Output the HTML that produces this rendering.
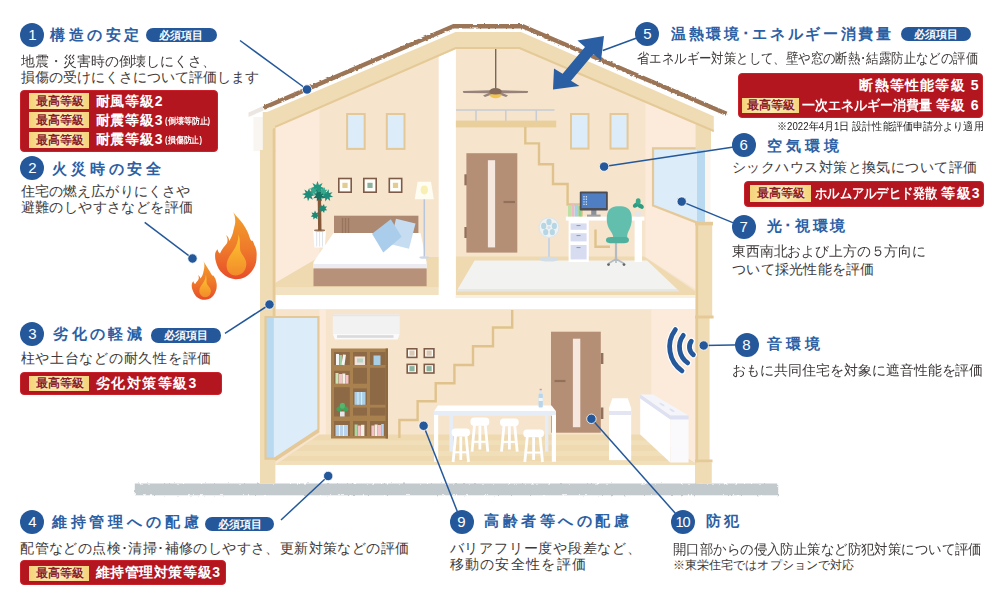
<!DOCTYPE html>
<html lang="ja">
<head>
<meta charset="utf-8">
<title>住宅性能評価 10項目</title>
<style>
html,body{margin:0;padding:0;background:#fff;}
body{width:988px;height:598px;position:relative;overflow:hidden;font-family:"Liberation Sans",sans-serif;}
#c{position:absolute;left:0;top:0;width:988px;height:598px;overflow:hidden;}
#c div,#c span{white-space:nowrap;}
.j{text-align:justify;text-align-last:justify;}
.n{position:absolute;width:24px;height:24px;border-radius:50%;background:#24589b;color:#fff;font-size:15px;line-height:24px;text-align:center;}
.n.x{letter-spacing:-1.1px;text-indent:-1px;font-size:14.5px;}
.t{position:absolute;color:#2b60a4;font-weight:bold;font-size:15px;line-height:18px;height:18px;}
.b{position:absolute;color:#3e3a39;font-size:13.5px;line-height:16px;height:16px;}
.q{position:absolute;background:#24589b;color:#fff;font-weight:bold;font-size:10.5px;line-height:14.4px;height:14.4px;border-radius:7.2px;box-sizing:border-box;padding:0 13.4px;}
.r{position:absolute;background:#b4161f;border:1px solid #c9222b;border-radius:4px;box-sizing:border-box;}
.g{position:absolute;background:linear-gradient(90deg,#f6d47c 0%,#fbe9ad 50%,#f6d47c 100%);color:#8c1d22;font-weight:bold;font-size:11.5px;box-sizing:border-box;padding:0 6.4px;text-shadow:0 0 2px #fff6d8,0 0 1px #fff6d8;}
.w{position:absolute;color:#fff;font-weight:bold;font-size:14px;line-height:16px;height:16px;}
</style>
</head>
<body>
<div id="c">
<svg width="988" height="598" viewBox="0 0 988 598" style="position:absolute;left:0;top:0">
<defs><filter id="rough" x="-2%" y="-20%" width="104%" height="140%"><feTurbulence type="fractalNoise" baseFrequency="0.3" numOctaves="2" seed="3" result="n"/><feDisplacementMap in="SourceGraphic" in2="n" scale="2.6" xChannelSelector="R" yChannelSelector="G"/></filter></defs>
<rect x="134.8" y="483.5" width="643.4" height="11.8" fill="#c3cace" filter="url(#rough)"/>
<polygon points="248.5,112.5 263.5,105.8 263.5,110.5 248.5,117.0" fill="#ebe6e2"/>
<rect x="253.5" y="117" width="9.5" height="34" fill="#f9f6f2"/>
<polygon points="270.0,131.0 455.7,47.0 519.4,47.0 705.0,128.0 705.0,295.0 270.0,295.0" fill="#f6e4cd"/>
<polygon points="274.0,129.0 319.4,108.0 319.4,258.0 276.0,283.0 274.0,283.0" fill="#fcebdb"/>
<polygon points="645.4,101.0 700.0,125.0 700.0,292.0 645.4,257.0" fill="#fcebdb"/>
<polygon points="319.4,257.0 439.0,257.0 439.0,287.5 275.0,287.5 275.0,283.0" fill="#eed9b0"/>
<rect x="275" y="287.5" width="164" height="7.5" fill="#f2e2c1"/>
<polygon points="455.5,256.5 644.0,256.5 695.0,291.0 695.0,295.0 455.5,295.0" fill="#eed9b0"/>
<rect x="455.5" y="295" width="240" height="3" fill="#faf0e0"/>
<rect x="438.7" y="40" width="17.2" height="256" fill="#fff"/>
<rect x="275" y="309.2" width="421" height="155.8" fill="#f6e4cd"/>
<rect x="319.4" y="309.2" width="6.4" height="126" fill="#fcebdb"/>
<polygon points="651.3,309.2 696.0,309.2 696.0,464.0 651.3,434.5" fill="#fcebdb"/>
<polygon points="319.5,434.5 651.3,434.5 696.0,463.8 696.0,464.6 276.0,464.6" fill="#eed9b0"/>
<clipPath id="lf"><polygon points="319.5,434.5 651.3,434.5 696.0,463.8 696.0,464.6 276.0,464.6"/></clipPath>
<g clip-path="url(#lf)" fill="#f1dfba"><rect x="270" y="440.5" width="430" height="4.5"/><rect x="270" y="451" width="430" height="5"/><rect x="270" y="461" width="430" height="4"/></g>
<rect x="347.1" y="114.0" width="17.6" height="34.9" fill="#dcecf8" stroke="#e4c897" stroke-width="2"/>
<rect x="386.8" y="114.0" width="17.7" height="34.9" fill="#dcecf8" stroke="#e4c897" stroke-width="2"/>
<rect x="338.8" y="178.5" width="12.4" height="13.7" fill="#fffdf8" stroke="#7d5b46" stroke-width="1.6"/><rect x="342.4" y="182.8" width="5.2" height="5.2" fill="#e2cc8f"/>
<rect x="363.8" y="178.5" width="12.4" height="13.7" fill="#fffdf8" stroke="#7d5b46" stroke-width="1.6"/><rect x="367.4" y="182.8" width="5.2" height="5.2" fill="#8db39f"/>
<rect x="389.3" y="178.5" width="12.4" height="13.7" fill="#fffdf8" stroke="#7d5b46" stroke-width="1.6"/><rect x="392.9" y="182.8" width="5.2" height="5.2" fill="#e2cc8f"/>
<polygon points="313.2,230.2 326.0,230.2 324.8,247.6 314.4,247.6" fill="#fff"/>
<path d="M316.7 232V246.5M319.6 232V246.5M322.5 232V246.5" stroke="#dfe3ea" stroke-width="1"/>
<ellipse cx="319.6" cy="230.4" rx="5.6" ry="1.1" fill="#9a7a5e"/>
<path d="M319.8 230.5 L319.4 199" stroke="#85583a" stroke-width="3.4" fill="none"/>
<polygon points="319.7,216.0 317.3,216.7 317.4,219.2 315.3,217.7 313.4,219.4 313.3,216.9 310.8,216.4 312.7,214.8 311.5,212.5 314.0,213.0 315.0,210.6 316.2,212.9 318.6,212.2 317.6,214.5" fill="#1d8a76"/>
<polygon points="327.2,210.3 324.6,210.4 324.1,212.9 322.5,210.9 320.2,212.0 320.7,209.5 318.4,208.5 320.7,207.3 320.1,204.8 322.4,205.9 324.0,203.9 324.6,206.4 327.1,206.4 325.5,208.4" fill="#1d8a76"/>
<polygon points="315.2,195.2 311.5,196.1 312.8,199.7 309.6,197.7 308.0,201.2 307.1,197.5 303.5,198.8 305.5,195.6 302.0,194.0 305.7,193.1 304.4,189.5 307.6,191.5 309.2,188.0 310.1,191.7 313.7,190.4 311.7,193.6" fill="#1e8c78"/>
<polygon points="333.2,197.1 329.5,197.3 330.2,200.9 327.4,198.6 325.3,201.6 325.1,197.9 321.5,198.6 323.8,195.8 320.8,193.7 324.5,193.5 323.8,189.9 326.6,192.2 328.7,189.2 328.9,192.9 332.5,192.2 330.2,195.0" fill="#1e8c78"/>
<polygon points="324.7,188.2 320.8,189.6 322.6,193.3 318.9,191.5 317.5,195.4 316.1,191.5 312.4,193.3 314.2,189.6 310.3,188.2 314.2,186.8 312.4,183.1 316.1,184.9 317.5,181.0 318.9,184.9 322.6,183.1 320.8,186.8" fill="#23967f"/>
<polygon points="325.0,197.7 321.4,197.7 321.7,201.3 319.1,198.7 316.8,201.5 316.8,197.9 313.2,198.2 315.8,195.6 313.0,193.3 316.6,193.3 316.3,189.7 318.9,192.3 321.2,189.5 321.2,193.1 324.8,192.8 322.2,195.4" fill="#15705f"/>
<polygon points="318.0,192.0 315.3,192.4 315.6,195.1 313.5,193.3 311.6,195.2 311.7,192.5 309.0,192.1 311.3,190.5 309.9,188.2 312.5,188.9 313.4,186.4 314.5,188.9 317.1,188.1 315.7,190.5" fill="#34a78c"/>
<polygon points="327.2,193.6 324.6,193.2 324.1,195.8 322.8,193.5 320.4,194.6 321.4,192.2 319.0,191.1 321.5,190.3 320.9,187.8 323.1,189.2 324.7,187.2 324.9,189.8 327.5,189.8 325.6,191.6" fill="#34a78c"/>
<rect x="334" y="215.7" width="84.4" height="19" fill="#ad8971"/>
<path d="M342.5 218V233M345.5 218V233M348.5 218V233" stroke="#98745e" stroke-width="1.4"/>
<polygon points="333.5,233.0 420.5,233.0 426.6,262.0 426.6,268.6 313.5,268.6 313.5,262.0" fill="#fff"/>
<rect x="313.5" y="264" width="113.1" height="4.6" fill="#ecebf2"/>
<rect x="313.5" y="268.4" width="113.1" height="17.8" fill="#b8917a"/>
<polygon points="396.0,218.7 415.5,223.4 409.0,248.8 390.0,244.0" fill="#c6dcf1"/>
<polygon points="390.8,219.2 401.6,236.7 383.3,252.6 372.0,233.7" fill="#a9cdeb"/>
<path d="M424.3 199V257" stroke="#b8c6dc" stroke-width="1.5"/>
<ellipse cx="424.3" cy="257.5" rx="5" ry="1.3" fill="#cfd8e6"/>
<polygon points="417.6,181.7 431.0,181.7 433.8,199.3 414.8,199.3" fill="#fffdf2"/>
<ellipse cx="424.3" cy="190" rx="3.6" ry="4.4" fill="#f8efb4"/>
<rect x="571.0" y="114.0" width="17.5" height="34.6" fill="#dcecf8" stroke="#e4c897" stroke-width="2"/>
<rect x="610.5" y="114.0" width="17.1" height="34.6" fill="#dcecf8" stroke="#e4c897" stroke-width="2"/>
<path d="M495.7 48V88" stroke="#7d6658" stroke-width="1.4"/>
<polygon points="462.8,91.0 490.0,90.2 490.0,93.2 463.5,93.0" fill="#97837a"/>
<polygon points="528.2,91.0 501.0,90.2 501.0,93.2 527.5,93.0" fill="#97837a"/>
<polygon points="483.0,95.5 491.0,92.0 493.0,94.0 485.0,97.0" fill="#97837a"/>
<polygon points="508.0,95.5 500.0,92.0 498.0,94.0 506.0,97.0" fill="#97837a"/>
<ellipse cx="495.5" cy="91.5" rx="6.2" ry="3.6" fill="#84695a"/>
<path d="M489.5 94.5 A6.2 4.6 0 0 0 501.7 94.5 Z" fill="#f3c54d"/>
<path d="M456 110H554.5M476 110V121M505.8 110V121M536.3 110V121" stroke="#c8ccd4" stroke-width="1.5" fill="none"/>
<rect x="455.9" y="120.6" width="100.3" height="6.8" fill="#e8cf9c"/>
<rect x="466.4" y="153.2" width="50.9" height="99.4" fill="#b48f76"/>
<rect x="487.9" y="160.2" width="7.2" height="87.2" fill="#f6e8df"/>
<rect x="464.4" y="174.3" width="2.4" height="11" fill="#93705b"/><rect x="464.4" y="227" width="2.4" height="11" fill="#93705b"/>
<path d="M503.5 202H515" stroke="#93705b" stroke-width="2.2"/>
<polyline points="525.3,127.0 525.3,143.4 539.0,143.4 539.0,164.2 553.0,164.2 553.0,184.0 567.6,184.0 567.6,204.5 581.6,204.5 581.6,217.0" fill="none" stroke="#e0c38c" stroke-width="2.4"/>
<polyline points="595.5,229.5 595.5,246.8 610.0,246.8" fill="none" stroke="#e0c38c" stroke-width="2.4"/>
<polygon points="474.6,260.5 647.0,260.5 677.5,289.4 457.5,289.4" fill="#f2f2f0"/>
<polygon points="457.5,289.4 677.5,289.4 679.5,291.6 456.5,291.6" fill="#e6e6e3"/>
<path d="M549 238V258" stroke="#c9d6e2" stroke-width="2"/>
<ellipse cx="549" cy="259.2" rx="9.5" ry="2.4" fill="#d3dde8"/>
<circle cx="549" cy="227.6" r="10" fill="#f1f3f3" stroke="#dfe6ea" stroke-width="1.2"/>
<ellipse cx="549.0" cy="222.0" rx="2.6" ry="3.2" fill="#b7d6e4"/>
<ellipse cx="554.3" cy="225.9" rx="2.6" ry="3.2" fill="#b7d6e4"/>
<ellipse cx="552.3" cy="232.1" rx="2.6" ry="3.2" fill="#b7d6e4"/>
<ellipse cx="545.7" cy="232.1" rx="2.6" ry="3.2" fill="#b7d6e4"/>
<ellipse cx="543.7" cy="225.9" rx="2.6" ry="3.2" fill="#b7d6e4"/>
<circle cx="549" cy="227.6" r="1.6" fill="#d4e0ea"/>
<rect x="565.8" y="216.6" width="78.6" height="4" fill="#fff"/>
<rect x="568.6" y="220" width="20.2" height="42" fill="#fff"/>
<rect x="634.6" y="220" width="7.4" height="42" fill="#fff"/>
<rect x="570.6" y="223.4" width="16" height="6.4" fill="#d8dcf0"/><rect x="570.6" y="233.2" width="16" height="8.2" fill="#d8dcf0"/><rect x="570.6" y="245" width="16" height="14.4" fill="#d8dcf0"/>
<path d="M576.5 225.6h4M576.5 235.6h4M576.5 247.6h4" stroke="#8f93a8" stroke-width="1"/>
<rect x="568" y="205.5" width="3" height="11" fill="#bfe0a4"/><rect x="571.3" y="203.5" width="3" height="13" fill="#f0b8c4"/><rect x="574.6" y="204.5" width="3.4" height="12" fill="#a8cfe8"/><rect x="578.3" y="206" width="3.2" height="10.5" fill="#8fcf8a"/>
<rect x="591.2" y="209" width="5.2" height="6.4" fill="#8a8f98"/><rect x="587" y="214.6" width="13.6" height="2" fill="#9a9fa8"/>
<rect x="579.8" y="191.6" width="28" height="18.8" rx="1" fill="#4a4d55"/>
<rect x="581.6" y="193.4" width="24.4" height="14.6" fill="#4f7fc2"/>
<path d="M584 196v9M586.4 196v9" stroke="#cfe0f4" stroke-width="1.2" stroke-dasharray="1.4 1.2"/>
<rect x="635.6" y="211" width="5" height="5.6" fill="#e4e6ec"/>
<ellipse cx="636" cy="205" rx="3.4" ry="2.2" fill="#2f9b80" transform="rotate(-35 636 205)"/><ellipse cx="640.6" cy="206.2" rx="3.4" ry="2.2" fill="#2f9b80" transform="rotate(30 640.6 206.2)"/><ellipse cx="638.2" cy="201.5" rx="2.4" ry="3.2" fill="#39a98c"/>
<path d="M616 241V259" stroke="#b4bac2" stroke-width="2.2"/>
<path d="M616 259L608.5 263.5M616 259L624 263.5M616 259V263" stroke="#b4bac2" stroke-width="1.6" fill="none"/>
<circle cx="608.5" cy="264.6" r="1.4" fill="#666"/><circle cx="624" cy="264.6" r="1.4" fill="#666"/>
<path d="M613.2 238.5 C613.6 235 611.5 232.5 609.3 229 C606.6 224.5 606.2 218 607.4 213.5 C608.8 208 613.5 206.2 619.2 206.2 C625 206.2 629.8 208 631.2 213.5 C632.4 218 632 224.5 629.6 229 C627.8 232.5 626.6 235 627.4 238.5 Z" fill="#62bfad"/>
<path d="M606 240 C606 237.6 608.5 237 612 237 H625 C627.6 237 629 238 629 240 C629 242.4 627 243.2 624 243.2 H611 C608 243.2 606 242.6 606 240 Z" fill="#4fb09e"/>
<rect x="332.8" y="314.6" width="67" height="19.4" rx="1.5" fill="#f2f2f2"/>
<rect x="332.8" y="314.6" width="67" height="1.6" fill="#e6e6e6"/>
<path d="M332.8 334 H399.8 L397.6 339.6 H335 Z" fill="#fafafa"/>
<rect x="337" y="335.2" width="56.5" height="2.6" fill="#dadadd"/>
<rect x="331" y="348.5" width="57" height="90" fill="#a9814f"/>
<rect x="385.6" y="348.5" width="2.4" height="90" fill="#8f6a40"/>
<rect x="334.0" y="352.0" width="15.8" height="13.0" fill="#8e6945"/>
<rect x="334.0" y="370.8" width="15.8" height="12.9" fill="#8e6945"/>
<rect x="334.0" y="387.2" width="15.8" height="29.3" fill="#8e6945"/>
<rect x="334.0" y="421.0" width="15.8" height="15.0" fill="#8e6945"/>
<rect x="353.0" y="352.0" width="14.0" height="13.0" fill="#8e6945"/>
<rect x="353.0" y="367.8" width="14.0" height="15.9" fill="#8e6945"/>
<rect x="353.0" y="388.4" width="14.0" height="16.4" fill="#8e6945"/>
<rect x="353.0" y="407.6" width="14.0" height="8.0" fill="#8e6945"/>
<rect x="353.0" y="421.0" width="14.0" height="15.0" fill="#8e6945"/>
<rect x="370.0" y="352.0" width="15.5" height="13.0" fill="#8e6945"/>
<rect x="370.0" y="367.8" width="15.5" height="37.0" fill="#8e6945"/>
<rect x="370.0" y="407.6" width="15.5" height="8.0" fill="#8e6945"/>
<rect x="370.0" y="421.0" width="15.5" height="15.0" fill="#8e6945"/>
<rect x="336" y="354" width="3" height="11" fill="#f5f5f5"/><rect x="339.3" y="355" width="2.6" height="10" fill="#9fd0a0"/><rect x="342.2" y="354.5" width="3" height="10.5" fill="#f5f5f5" transform="rotate(8 343 360)"/>
<rect x="354.6" y="356.5" width="10.5" height="8.5" fill="#f3e1d9"/><rect x="357" y="358.5" width="6" height="4" fill="#b6d6c4"/>
<rect x="373.5" y="355.5" width="7" height="9.5" fill="#a9cfe6"/>
<rect x="335.5" y="373" width="3" height="10.7" fill="#c9e6b4"/><rect x="338.8" y="374" width="3.2" height="9.7" fill="#f3c3c9"/><rect x="342.3" y="373.5" width="3" height="10.2" fill="#f5f0e6"/><rect x="345.5" y="375" width="3" height="8.7" fill="#f3c3c9"/>
<rect x="354.5" y="392" width="11" height="12.8" fill="#a9cfe6"/><path d="M358 392v12.8M361.6 392v12.8" stroke="#e6f0f8" stroke-width="0.9"/>
<rect x="340" y="411.5" width="4.6" height="5" fill="#e4e6ec"/><ellipse cx="339.8" cy="408.6" rx="3.6" ry="2.4" fill="#3ea45c" transform="rotate(-25 339.8 408.6)"/><ellipse cx="345" cy="408.6" rx="3.6" ry="2.4" fill="#3ea45c" transform="rotate(25 345 408.6)"/><ellipse cx="342.4" cy="405.8" rx="2.6" ry="3" fill="#55b56c"/>
<rect x="335.5" y="425" width="12.5" height="11" fill="#b9d3ea"/><path d="M339.5 425v11M343.5 425v11" stroke="#eef4fa" stroke-width="0.9"/>
<rect x="354.6" y="424.5" width="3" height="11.5" fill="#a6d8a0"/><rect x="357.8" y="425.5" width="3" height="10.5" fill="#f3c3c9"/><rect x="361" y="424.8" width="3.4" height="11.2" fill="#f5f0e6"/>
<rect x="371.4" y="425.5" width="3" height="10.5" fill="#f3c3c9"/><rect x="374.6" y="424.5" width="3" height="11.5" fill="#f5f0e6"/><rect x="377.8" y="425" width="3.2" height="11" fill="#f3c3c9"/><rect x="381.2" y="424" width="2.6" height="12" fill="#b9d3ea"/>
<rect x="407.2" y="348.8" width="9.6" height="8.6" fill="#fffdf8" stroke="#7d5b46" stroke-width="1.6"/><rect x="409.4" y="350.5" width="5.2" height="5.2" fill="#d9c9b4"/>
<rect x="407.2" y="364.4" width="9.6" height="8.6" fill="#fffdf8" stroke="#7d5b46" stroke-width="1.6"/><rect x="409.4" y="366.1" width="5.2" height="5.2" fill="#8db39f"/>
<rect x="424.3" y="348.8" width="9.6" height="8.6" fill="#fffdf8" stroke="#7d5b46" stroke-width="1.6"/><rect x="426.5" y="350.5" width="5.2" height="5.2" fill="#d9c9b4"/>
<rect x="424.3" y="364.4" width="9.6" height="8.6" fill="#fffdf8" stroke="#7d5b46" stroke-width="1.6"/><rect x="426.5" y="366.1" width="5.2" height="5.2" fill="#8db39f"/>
<polyline points="512.2,310.0 512.2,327.5 493.0,327.5 493.0,346.2 473.0,346.2 473.0,365.0 454.4,365.0 454.4,383.2 435.7,383.2 435.7,401.2 417.6,401.2 417.6,420.0 399.4,420.0 399.4,438.0" fill="none" stroke="#e0c38c" stroke-width="2.4"/>
<rect x="551" y="331.7" width="49.8" height="101" fill="#b48f76"/>
<rect x="572.9" y="338.7" width="7.4" height="88.5" fill="#f6e8df"/>
<rect x="600.8" y="353" width="2.6" height="11" fill="#93705b"/><rect x="600.8" y="407.5" width="2.6" height="11.5" fill="#93705b"/>
<path d="M554.5 381H565.5" stroke="#93705b" stroke-width="2.2"/>
<rect x="449.4" y="415" width="3.6" height="36.6" fill="#e6edf6"/><rect x="545" y="415" width="3.4" height="36.6" fill="#e6edf6"/>
<path d="M474.5 424.8 L472.0 451.6 M485.3 424.8 L487.8 451.6 M479.9 425.8 V449.6" stroke="#fff" stroke-width="2.8" fill="none"/><path d="M473.0 441.8 H486.8" stroke="#fff" stroke-width="2"/><rect x="470.5" y="417.6" width="18.8" height="8.2" rx="3.6" fill="#fff"/>
<path d="M504.0 425.2 L501.5 451.6 M514.7 425.2 L517.2 451.6 M509.4 426.2 V449.6" stroke="#fff" stroke-width="2.8" fill="none"/><path d="M502.5 441.9 H516.2" stroke="#fff" stroke-width="2"/><rect x="500.0" y="418.4" width="18.7" height="7.8" rx="3.6" fill="#fff"/>
<polygon points="438.0,405.4 551.5,405.4 556.0,411.2 434.0,411.2" fill="#fff"/>
<rect x="434" y="411" width="122" height="4.8" fill="#e6edf6"/>
<rect x="434" y="415" width="4.2" height="46.8" fill="#fff"/><rect x="551.8" y="415" width="4.2" height="46.8" fill="#fff"/>
<path d="M455.6 435.4 L453.1 462.0 M466.0 435.4 L468.5 462.0 M460.8 436.4 V460.0" stroke="#fff" stroke-width="2.8" fill="none"/><path d="M454.1 452.3 H467.5" stroke="#fff" stroke-width="2"/><rect x="451.6" y="428.6" width="18.4" height="7.8" rx="3.6" fill="#fff"/>
<path d="M527.3 436.3 L524.8 462.0 M540.0 436.3 L542.5 462.0 M533.6 437.3 V460.0" stroke="#fff" stroke-width="2.8" fill="none"/><path d="M525.8 452.6 H541.5" stroke="#fff" stroke-width="2"/><rect x="523.3" y="429.5" width="20.7" height="7.8" rx="3.6" fill="#fff"/>
<rect x="538.6" y="393.5" width="4.2" height="14" rx="1.2" fill="#b7d6ee"/><rect x="539.6" y="389.8" width="2.2" height="4" fill="#d4e6f4"/><rect x="539.6" y="388.8" width="2.2" height="1.4" fill="#e38a9a"/><rect x="538.6" y="398" width="4.2" height="3" fill="#eef5fb"/>
<path d="M612.4 398.2 H627.8 L631.2 408 V460.3 H609 V408 Z" fill="#fff"/>
<rect x="609" y="411" width="22.2" height="4" fill="#e3e6f2"/>
<polygon points="640.2,398.0 670.3,419.0 670.3,462.5 640.2,434.5" fill="#fff"/>
<polygon points="670.3,419.0 688.6,419.0 688.6,462.5 670.3,462.5" fill="#fafafc"/>
<polygon points="640.2,394.6 653.0,394.6 688.6,415.6 670.3,415.6" fill="#f4f5fa"/>
<polygon points="640.2,394.6 670.3,415.6 688.6,415.6 688.6,419.4 670.3,419.4 640.2,398.4" fill="#dde1f1"/>
<ellipse cx="662" cy="404.5" rx="3" ry="1" fill="#dde1f1" transform="rotate(30 662 404.5)"/><ellipse cx="672" cy="410.3" rx="3" ry="1" fill="#dde1f1" transform="rotate(30 672 410.3)"/>
<polygon points="652.0,147.5 705.0,147.5 705.0,222.5 697.0,222.5 652.0,206.0" fill="#dcecf8"/>
<rect x="697" y="149" width="8.2" height="73.5" fill="#b9d9f0"/>
<polyline points="697.0,148.4 653.0,148.4 653.0,205.6 697.0,222.6" fill="none" stroke="#e4c897" stroke-width="2.2"/>
<rect x="705" y="147.5" width="5.5" height="75" fill="#fbf7f0"/>
<rect x="262.8" y="112" width="12.6" height="40" fill="#efdcb5"/>
<rect x="260" y="150" width="15.4" height="333.5" fill="#efdcb5"/>
<rect x="272.6" y="128" width="2.8" height="188" fill="#e5ca98"/>
<rect x="695.6" y="120" width="15.4" height="30" fill="#efdcb5"/>
<rect x="695.6" y="223" width="16.6" height="95" fill="#efdcb5"/>
<rect x="695" y="221.8" width="18" height="3.6" fill="#e5ca98"/>
<rect x="695.6" y="223" width="2.6" height="260" fill="#e5ca98"/>
<rect x="695.6" y="316" width="14" height="167.5" fill="#efdcb5"/>
<rect x="695.6" y="316" width="2.6" height="167.5" fill="#e5ca98"/>
<rect x="695" y="315.5" width="18.6" height="3" fill="#e5ca98"/>
<rect x="695" y="459.5" width="17.5" height="3" fill="#e5ca98"/>
<rect x="695.6" y="462.5" width="16.2" height="21" fill="#efdcb5"/>
<polygon points="263.0,113.8 455.5,32.0 521.1,32.0 713.8,116.3 713.8,132.0 519.4,49.0 455.9,49.0 263.0,133.0" fill="#efdcb5"/>
<polyline points="713.8,131.0 519.6,48.0 455.7,48.0 275.0,126.9" fill="none" stroke="#e5ca98" stroke-width="2.2"/>
<polyline points="263.8,107.7 453.6,26.2 522.5,26.2 726.5,113.8" fill="none" stroke="#9b7557" stroke-width="4.4" stroke-linejoin="miter" filter="url(#rough)"/>
<polygon points="265.5,317.0 318.4,317.0 318.4,429.6 274.5,458.6 265.5,458.6" fill="#dcecf8"/>
<rect x="265.5" y="317" width="8.3" height="141.6" fill="#b9d9f0"/>
<polygon points="265.5,317.0 318.4,317.0 318.4,429.6 274.5,458.6 265.5,458.6" fill="none" stroke="#e4c897" stroke-width="2.2"/>
<path d="M318.8 430.6 L274.8 459.6" stroke="#e4c897" stroke-width="3.2" fill="none"/>
<path d="M682.0 370.9 A29.3 29.3 0 0 1 675.4 329.6" fill="none" stroke="#fff" stroke-width="7" stroke-linecap="round"/>
<path d="M682.0 370.9 A29.3 29.3 0 0 1 675.4 329.6" fill="none" stroke="#24589b" stroke-width="4.8" stroke-linecap="round"/>
<path d="M687.7 362.9 A19.5 19.5 0 0 1 683.3 335.4" fill="none" stroke="#fff" stroke-width="7" stroke-linecap="round"/>
<path d="M687.7 362.9 A19.5 19.5 0 0 1 683.3 335.4" fill="none" stroke="#24589b" stroke-width="4.8" stroke-linecap="round"/>
<path d="M693.4 354.8 A9.6 9.6 0 0 1 691.3 341.3" fill="none" stroke="#fff" stroke-width="7" stroke-linecap="round"/>
<path d="M693.4 354.8 A9.6 9.6 0 0 1 691.3 341.3" fill="none" stroke="#24589b" stroke-width="4.8" stroke-linecap="round"/>
<defs><linearGradient id="fo" x1="0" y1="0" x2="0" y2="1"><stop offset="0" stop-color="#f4a02c"/><stop offset="0.55" stop-color="#ee7a2a"/><stop offset="1" stop-color="#e74c2a"/></linearGradient><linearGradient id="fi" x1="0" y1="0" x2="0" y2="1"><stop offset="0" stop-color="#fdc830"/><stop offset="1" stop-color="#f28b2a"/></linearGradient></defs>
<path d="M233.2 212 C236.5 217 240.5 220 242.7 223.4 C246.5 229 248.5 233 249.4 236.8 C250.5 240 251.5 242 252.6 240.4 C253.8 243 254.2 244 254.5 245.2 C256.2 248.5 257 252 256.6 256 C256.6 261 255.8 265 253.6 268.6 C251.5 272.5 248.5 275.5 245.3 277 C242 278.6 238.5 279.4 235.2 279.2 C230.5 279 226 276.8 222.7 273.6 C219.5 270.5 217 266.5 216 261.9 C215.2 259.5 215 257.5 215.1 255.2 C215 252.8 216 250.8 217.6 249.2 C217.8 251 218.6 252.6 220 253.4 C221.5 249.5 224.5 246.5 226.8 243.5 C228.2 241 227.5 237.5 226 235.1 C228 236.5 229 238.6 229.2 241 C231.5 237.5 233 234 233.5 230.1 C234.6 225.5 235.4 223 235.2 221.7 C235.4 218 234.6 215 233.2 212 Z" fill="url(#fo)"/>
<path d="M238.6 234.3 C240.5 240 239.5 245 240.2 250.2 C241.5 255 246.6 258 246.3 264.5 C246 271 241.5 275.4 235.6 275.4 C230 275.4 226.4 271 226.6 265 C226.8 259.5 230 255.5 233 251 C236.5 246 238.4 241 238.6 234.3 Z" fill="url(#fi)"/>
<path d="M202.6 259.9 C204.5 263 207.5 267.5 210.1 271.9 C211.5 274.5 212.6 276.4 213.4 275.6 C215 278 215.8 279.5 216 281 C217 284 217 287.5 216 290.4 C214.5 295.5 210.5 299.5 205.1 299.8 C199.5 300 195 296.5 193.4 292 C192.3 289.6 191.6 287.6 191.7 285.3 C191.8 283.5 192.4 282.2 193.4 281.2 C193.6 282.4 194.2 283.5 195.2 284 C196.6 281.8 197.4 281.5 198.4 279.6 C199.2 278 198.8 276.4 198 275 C199.4 275.8 200.2 277 200.4 278.4 C202 276.4 203 274.3 203.4 271.9 C204.4 268 204.6 265.6 204.2 263.6 C204 262.2 203.4 261 202.6 259.9 Z" fill="url(#fo)"/>
<path d="M205.9 274.5 C206.8 278 206.2 280.6 206.8 283.4 C207.8 286 211 287.6 210.9 291 C210.8 294.8 208.4 297.2 205.2 297.2 C202 297.2 199.2 294.6 199.3 290.6 C199.4 287.6 201.4 285.4 203 283 C204.8 280.4 205.8 278 205.9 274.5 Z" fill="url(#fi)"/>
<polygon points="604.0,36.0 601.0,60.5 593.4,54.0 571.0,80.7 579.5,86.0 553.0,89.5 554.0,68.5 562.6,73.7 585.0,47.0 577.5,40.5" fill="#2a5fa3"/>
<path d="M240.0 40.5 L307.0 89.5" stroke="#24589b" stroke-width="1.5" fill="none"/>
<path d="M144.7 222.4 L192.5 258.5" stroke="#24589b" stroke-width="1.5" fill="none"/>
<path d="M225.0 333.4 L269.5 304.5" stroke="#24589b" stroke-width="1.5" fill="none"/>
<path d="M281.0 520.0 L328.2 476.0" stroke="#24589b" stroke-width="1.5" fill="none"/>
<path d="M743.7 145.4 L604.1 166.6" stroke="#24589b" stroke-width="1.5" fill="none"/>
<path d="M743.7 227.1 L681.7 201.6" stroke="#24589b" stroke-width="1.5" fill="none"/>
<path d="M746.6 344.8 L703.7 345.5" stroke="#24589b" stroke-width="1.5" fill="none"/>
<path d="M461.6 522.4 L423.6 425.8" stroke="#24589b" stroke-width="1.5" fill="none"/>
<path d="M683.1 522.0 L591.4 418.8" stroke="#24589b" stroke-width="1.5" fill="none"/>
<path d="M647.5 34.0 L602.8 50.5" stroke="#24589b" stroke-width="1.5" fill="none"/>
<circle cx="307.0" cy="89.5" r="4.7" fill="#24589b" stroke="#fff" stroke-width="0.8"/>
<circle cx="192.5" cy="258.5" r="4.7" fill="#24589b" stroke="#fff" stroke-width="0.8"/>
<circle cx="269.5" cy="304.5" r="4.7" fill="#24589b" stroke="#fff" stroke-width="0.8"/>
<circle cx="328.2" cy="476.0" r="4.7" fill="#24589b" stroke="#fff" stroke-width="0.8"/>
<circle cx="604.1" cy="166.6" r="4.7" fill="#24589b" stroke="#fff" stroke-width="0.8"/>
<circle cx="681.7" cy="201.6" r="4.7" fill="#24589b" stroke="#fff" stroke-width="0.8"/>
<circle cx="703.7" cy="345.5" r="4.7" fill="#24589b" stroke="#fff" stroke-width="0.8"/>
<circle cx="423.6" cy="425.8" r="4.7" fill="#24589b" stroke="#fff" stroke-width="0.8"/>
<circle cx="591.4" cy="418.8" r="4.7" fill="#24589b" stroke="#fff" stroke-width="0.8"/>
</svg>
<div class="n" style="left:20.3px;top:23.3px">1</div>
<div class="t j" id="t1" style="left:50.0px;top:26.0px;width:89.0px;">構造の安定</div>
<div class="q j" style="left:145.5px;top:28.0px;width:71.1px">必須項目</div>
<div class="b j" id="t2" style="left:20.5px;top:53.8px;width:196.4px;transform:scaleX(0.9929);transform-origin:0 50%;">地震・災害時の倒壊しにくさ、</div>
<div class="b j" id="t3" style="left:20.5px;top:69.6px;width:238.2px;">損傷の受けにくさについて評価します</div>
<div class="r" style="left:20.0px;top:89.6px;width:198.0px;height:62.4px"></div>
<div class="g j" style="left:29.0px;top:93.3px;width:60.0px;height:16.1px;line-height:16.1px;padding:0 6.7px">最高等級</div>
<div class="g j" style="left:29.0px;top:112.4px;width:60.0px;height:16.1px;line-height:16.1px;padding:0 6.7px">最高等級</div>
<div class="g j" style="left:29.0px;top:131.8px;width:60.0px;height:16.2px;line-height:16.2px;padding:0 6.7px">最高等級</div>
<div class="w j" id="t4" style="left:95.6px;top:92.9px;width:67.0px;">耐風等級2</div>
<div class="w j" id="t5" style="left:95.6px;top:111.9px;width:67.0px;">耐震等級3</div>
<div class="w j" id="t6" style="left:165.4px;top:112.9px;width:51.1px;font-size:8.6px;transform:scaleX(0.8839);transform-origin:0 50%;">(倒壊等防止)</div>
<div class="w j" id="t7" style="left:95.6px;top:131.1px;width:67.0px;">耐震等級3</div>
<div class="w j" id="t8" style="left:165.4px;top:132.2px;width:42.1px;font-size:8.6px;transform:scaleX(0.8781);transform-origin:0 50%;">(損傷防止)</div>
<div class="n" style="left:20.3px;top:156.4px">2</div>
<div class="t j" id="t9" style="left:52.0px;top:159.5px;width:109.3px;">火災時の安全</div>
<div class="b j" id="t10" style="left:20.5px;top:184.2px;width:169.8px;">住宅の燃え広がりにくさや</div>
<div class="b j" id="t11" style="left:20.5px;top:200.3px;width:172.5px;">避難のしやすさなどを評価</div>
<div class="n" style="left:20.3px;top:322.4px">3</div>
<div class="t j" id="t12" style="left:53.4px;top:325.1px;width:88.2px;">劣化の軽減</div>
<div class="q j" style="left:150.8px;top:328.4px;width:70.5px">必須項目</div>
<div class="b j" id="t13" style="left:20.5px;top:350.9px;width:190.8px;">柱や土台などの耐久性を評価</div>
<div class="r" style="left:20.0px;top:371.6px;width:202.0px;height:23.7px"></div>
<div class="g j" style="left:29.0px;top:376.0px;width:60.0px;height:15.3px;line-height:15.3px;padding:0 6.7px">最高等級</div>
<div class="w j" id="t14" style="left:95.6px;top:375.1px;width:100.7px;">劣化対策等級3</div>
<div class="n" style="left:20.3px;top:510.4px">4</div>
<div class="t j" id="t15" style="left:51.6px;top:512.8px;width:147.4px;">維持管理への配慮</div>
<div class="q j" style="left:204.7px;top:516.6px;width:69.8px">必須項目</div>
<div class="b j" id="t16" style="left:20.2px;top:540.9px;width:388.8px;">配管などの点検･清掃･補修のしやすさ、更新対策などの評価</div>
<div class="r" style="left:20.0px;top:560.3px;width:206.3px;height:25.0px"></div>
<div class="g j" style="left:29.0px;top:565.5px;width:60.0px;height:15.3px;line-height:15.3px;padding:0 6.7px">最高等級</div>
<div class="w j" id="t17" style="left:95.6px;top:564.3px;width:124.4px;">維持管理対策等級3</div>
<div class="n" style="left:635.4px;top:21.7px">5</div>
<div class="t j" id="t18" style="left:671.0px;top:24.9px;width:220.0px;">温熱環境･エネルギー消費量</div>
<div class="q j" style="left:900.6px;top:27.0px;width:70.0px">必須項目</div>
<div class="b j" id="t19" style="left:637.0px;top:50.9px;width:385.4px;transform:scaleX(0.8848);transform-origin:0 50%;">省エネルギー対策として、壁や窓の断熱･結露防止などの評価</div>
<div class="r" style="left:737.6px;top:73.3px;width:245.8px;height:44.6px"></div>
<div class="g j" style="left:741.7px;top:98.0px;width:56.9px;height:15.4px;line-height:15.4px;padding:0 5.1px">最高等級</div>
<div class="w j" id="t20" style="left:859.4px;top:77.4px;width:119.2px;">断熱等性能等級 5</div>
<div class="w j" id="t21" style="left:802.2px;top:97.4px;width:140.4px;transform:scaleX(0.9288);transform-origin:0 50%;">一次エネルギー消費量</div>
<div class="w j" id="t22" style="left:936.0px;top:97.4px;width:42.6px;">等級 6</div>
<div class="b j" id="t23" style="left:776.7px;top:118.3px;width:225.4px;color:#222;font-size:10.5px;transform:scaleX(0.9167);transform-origin:0 50%;">※2022年4月1日 設計性能評価申請分より適用</div>
<div class="n" style="left:731.6px;top:133.1px">6</div>
<div class="t j" id="t24" style="left:766.5px;top:136.9px;width:72.0px;">空気環境</div>
<div class="b j" id="t25" style="left:732.0px;top:160.2px;width:245.0px;">シックハウス対策と換気について評価</div>
<div class="r" style="left:743.7px;top:181.3px;width:239.9px;height:25.3px"></div>
<div class="g j" style="left:749.6px;top:184.8px;width:61.8px;height:17.5px;line-height:17.5px;padding:0 7.6px">最高等級</div>
<div class="w j" id="t26" style="left:815.2px;top:185.2px;width:140.4px;transform:scaleX(0.8732);transform-origin:0 50%;">ホルムアルデヒド発散</div>
<div class="w j" id="t27" style="left:941.4px;top:185.2px;width:38.2px;">等級3</div>
<div class="n" style="left:731.6px;top:214.8px">7</div>
<div class="t j" id="t28" style="left:766.5px;top:217.3px;width:78.7px;">光･視環境</div>
<div class="b j" id="t29" style="left:732.0px;top:244.0px;width:196.4px;transform:scaleX(0.9878);transform-origin:0 50%;">東西南北および上方の５方向に</div>
<div class="b j" id="t30" style="left:732.0px;top:261.5px;width:142.3px;">ついて採光性能を評価</div>
<div class="n" style="left:734.5px;top:332.5px">8</div>
<div class="t j" id="t31" style="left:767.0px;top:334.8px;width:52.5px;">音環境</div>
<div class="b j" id="t32" style="left:732.0px;top:362.8px;width:252.4px;transform:scaleX(0.9960);transform-origin:0 50%;">おもに共同住宅を対象に遮音性能を評価</div>
<div class="n" style="left:449.5px;top:510.1px">9</div>
<div class="t j" id="t33" style="left:484.0px;top:512.1px;width:144.7px;">高齢者等への配慮</div>
<div class="b j" id="t34" style="left:449.7px;top:541.2px;width:191.3px;">バリアフリー度や段差など、</div>
<div class="b j" id="t35" style="left:449.7px;top:557.2px;width:136.1px;">移動の安全性を評価</div>
<div class="n x" style="left:671.0px;top:509.7px">10</div>
<div class="t j" id="t36" style="left:705.8px;top:512.3px;width:33.2px;">防犯</div>
<div class="b j" id="t37" style="left:672.6px;top:541.7px;width:322.4px;transform:scaleX(0.9578);transform-origin:0 50%;">開口部からの侵入防止策など防犯対策について評価</div>
<div class="b j" id="t38" style="left:672.6px;top:556.9px;width:181.6px;font-size:12.0px;">※東栄住宅ではオプションで対応</div>
</div>
</body>
</html>
